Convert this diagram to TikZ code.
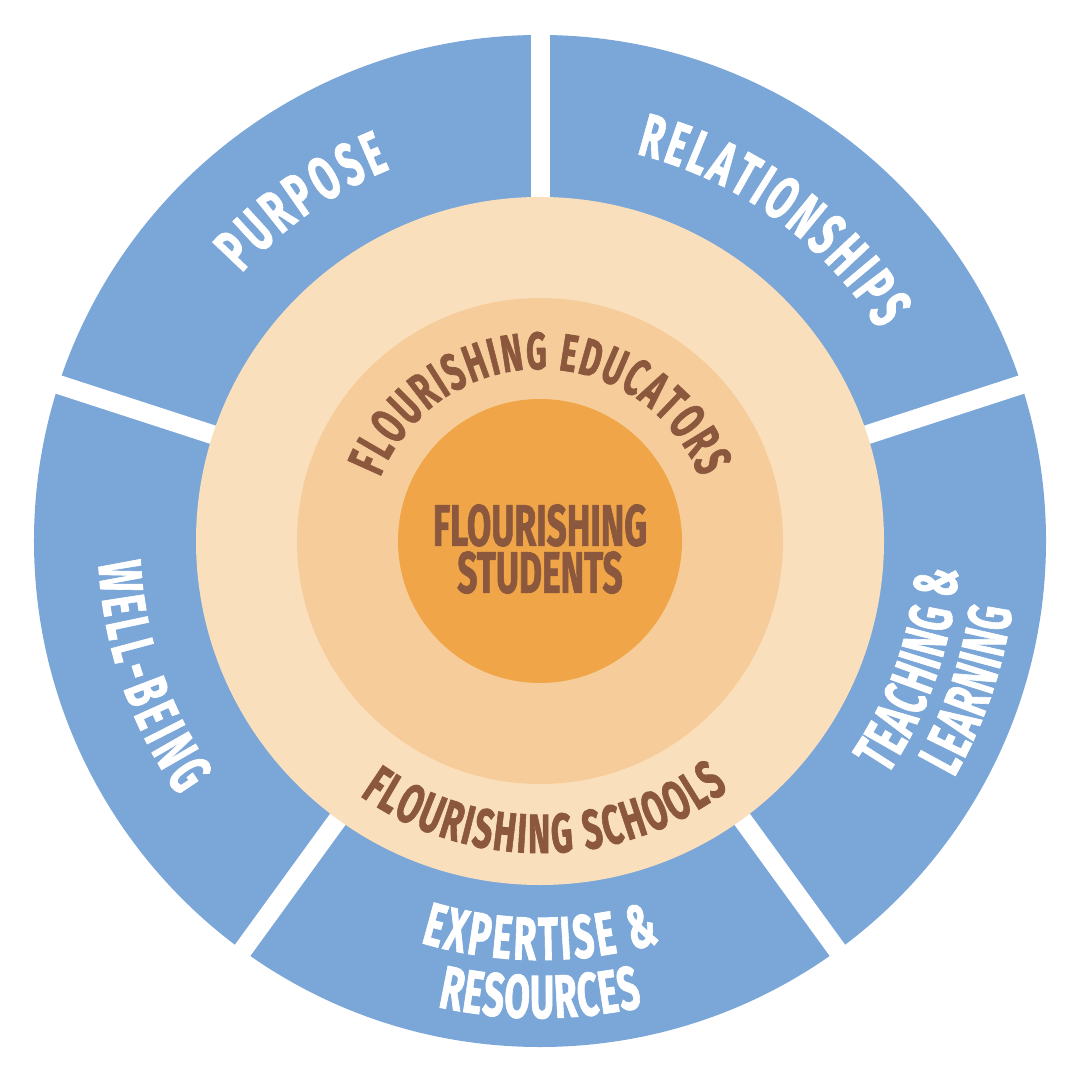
\documentclass[tikz,border=0pt]{standalone}
\usepackage{fontspec}
\newfontfamily\labfont{Fira Sans}[FakeBold=1.6]
\definecolor{ringblue}{RGB}{123,166,216}
\definecolor{palepeach}{RGB}{250,223,189}
\definecolor{midpeach}{RGB}{246,205,154}
\definecolor{corange}{RGB}{240,166,72}
\definecolor{cbrown}{RGB}{139,88,62}
\newcommand\bluefont{\labfont\bfseries\fontsize{17.3}{17.3}\selectfont}
\newcommand\edufont{\labfont\bfseries\fontsize{14.9}{14.9}\selectfont}
\newcommand\schfont{\labfont\bfseries\fontsize{15.7}{15.7}\selectfont}
\newcommand\stufont{\labfont\bfseries\fontsize{16.5}{13.4}\selectfont}
\def\sq{0.61}
\newcommand\sqz[1]{\scalebox{\sq}[1]{#1}}
\newdimen\arcacc
\newdimen\arctot
\newdimen\chw
% measure (outside the picture): #1 font, #2 characters, #3 name, #4 tracking
\newcommand\measurelabel[4]{%
  \global\arctot=0pt
  \foreach \ch [count=\i] in {#2}{%
    \settowidth{\chw}{#1\ch}%
    \chw=\sq\chw
    \advance\chw by #4\relax
    \expandafter\xdef\csname lw-#3-\i\endcsname{\the\chw}%
    \global\advance\arctot by \chw}%
  \expandafter\xdef\csname lt-#3\endcsname{\the\arctot}%
}
% place: #1 font, #2 baseline radius, #3 centre angle, #4 direction (1: ccw, tops inward; -1: cw, tops outward),
% #5 characters, #6 colour, #7 name
\newcommand\arclabel[7]{%
  \edef\mytot{\csname lt-#7\endcsname}%
  \pgfmathsetmacro\myrpt{#2*0.2845276}%
  \pgfmathsetmacro\myhalf{0.5*\mytot/\myrpt*57.29578}%
  \pgfmathsetmacro\mystart{#3-(#4)*\myhalf}%
  \global\arcacc=0pt
  \foreach \ch [count=\i] in {#5}{%
    \edef\mycw{\csname lw-#7-\i\endcsname}%
    \pgfmathsetmacro\myang{\mystart+(#4)*(\arcacc+0.5*\mycw)/\myrpt*57.29578}%
    \pgfmathsetmacro\myrot{\myang+(#4)*90}%
    \begin{scope}[shift={(\myang:#2)}, rotate=\myrot, xscale=\sq]
      \node[font=#1, text=#6, inner sep=0pt, anchor=base, transform shape] (#7-\i) at (0,0) {\ch};
    \end{scope}
    \global\advance\arcacc by \mycw\relax
  }%
}
\tikzset{gapline/.style={white, line width=0.19cm}}
\begin{document}
\measurelabel{\edufont}{F,L,O,U,R,I,S,H,I,N,G,\ ,E,D,U,C,A,T,O,R,S}{edu}{0.5pt}%
\measurelabel{\schfont}{F,L,O,U,R,I,S,H,I,N,G,\ ,S,C,H,O,O,L,S}{sch}{0.6pt}%
\measurelabel{\bluefont}{P,U,R,P,O,S,E}{pur}{1.2pt}%
\measurelabel{\bluefont}{R,E,L,A,T,I,O,N,S,H,I,P,S}{rel}{1.0pt}%
\measurelabel{\bluefont}{W,E,L,L,-,B,E,I,N,G}{wel}{1.4pt}%
\measurelabel{\bluefont}{T,E,A,C,H,I,N,G,\ ,\&}{tea}{0.5pt}%
\measurelabel{\bluefont}{L,E,A,R,N,I,N,G}{lea}{0.5pt}%
\measurelabel{\bluefont}{E,X,P,E,R,T,I,S,E,\ ,\&}{exp}{0.8pt}%
\measurelabel{\bluefont}{R,E,S,O,U,R,C,E,S}{res}{0.3pt}%
\begin{tikzpicture}[x=0.01cm,y=0.01cm]
\fill[white] (-540,-539) rectangle (540,541);
\useasboundingbox (-540,-539) rectangle (540,541);
% outer ring
\fill[ringblue] (0,0) coordinate (c) circle[radius=506];
\foreach \a in {90,18,-54,-126,162}
  \draw[gapline] (c) -- (\a:520);
% inner discs
\fill[palepeach] (c) circle[radius=344];
\fill[midpeach] (c) circle[radius=243];
\fill[corange] (c) circle[radius=142];
% centre label
\node[align=center, text=cbrown, font=\stufont, inner sep=0pt] (students) at (0,-8)
  {\sqz{FLOURISHING}\\\sqz{STUDENTS}};
% ring labels
\arclabel{\edufont}{172}{90}{-1}{F,L,O,U,R,I,S,H,I,N,G,\ ,E,D,U,C,A,T,O,R,S}{cbrown}{edu}
\arclabel{\schfont}{312}{-89}{1}{F,L,O,U,R,I,S,H,I,N,G,\ ,S,C,H,O,O,L,S}{cbrown}{sch}
% blue segment labels
\arclabel{\bluefont}{401}{125}{-1}{P,U,R,P,O,S,E}{white}{pur}
\arclabel{\bluefont}{399}{54}{-1}{R,E,L,A,T,I,O,N,S,H,I,P,S}{white}{rel}
\arclabel{\bluefont}{442}{199}{1}{W,E,L,L,-,B,E,I,N,G}{white}{wel}
\arclabel{\bluefont}{419}{-19}{1}{T,E,A,C,H,I,N,G,\ ,\&}{white}{tea}
\arclabel{\bluefont}{477}{-19}{1}{L,E,A,R,N,I,N,G}{white}{lea}
\arclabel{\bluefont}{419}{-90}{1}{E,X,P,E,R,T,I,S,E,\ ,\&}{white}{exp}
\arclabel{\bluefont}{477}{-90}{1}{R,E,S,O,U,R,C,E,S}{white}{res}
\end{tikzpicture}
\end{document}
